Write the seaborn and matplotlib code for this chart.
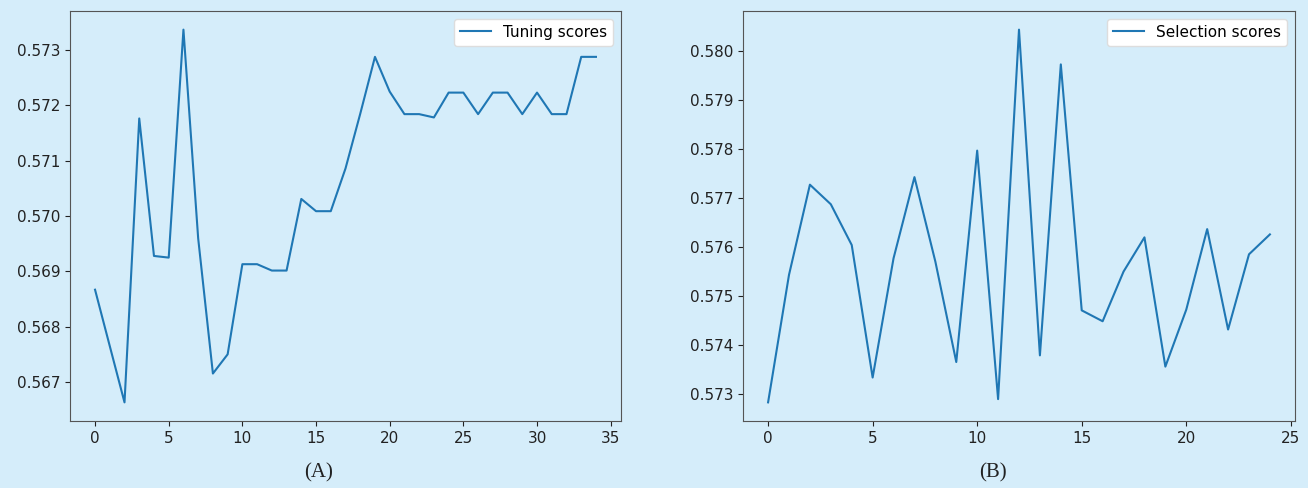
import matplotlib
matplotlib.use("Agg")
import matplotlib.pyplot as plt
import seaborn as sns
import pandas as pd

# Scores recorded at each iteration
tuning_scores = [
    0.568666, 0.567647, 0.566630, 0.571761, 0.569276, 0.569246, 0.573366,
    0.569594, 0.567151, 0.567498, 0.569127, 0.569127, 0.569012, 0.569012,
    0.570306, 0.570085, 0.570085, 0.570857, 0.571845, 0.572874, 0.572246,
    0.571839, 0.571839, 0.571779, 0.572228, 0.572228, 0.571839, 0.572228,
    0.572228, 0.571839, 0.572228, 0.571839, 0.571839, 0.572874, 0.572874,
]
selection_scores = [
    0.572833, 0.575430, 0.577267, 0.576868, 0.576038, 0.573339, 0.575768,
    0.577421, 0.575700, 0.573655, 0.577961, 0.572899, 0.580425, 0.573790,
    0.579717, 0.574707, 0.574485, 0.575497, 0.576194, 0.573561, 0.574722,
    0.576362, 0.574317, 0.575849, 0.576254,
]
series_labels = ["Tuning scores", "Selection scores"]
panel_titles = ["(A)", "(B)"]

bg = "#d5edfa"
line_color = "#1f77b4"

fig = plt.figure(figsize=(13.08, 4.88), dpi=100, facecolor=bg)
W, H = 1308, 488
ax_a = fig.add_axes([70 / W, 1 - 421 / H, (621 - 70) / W, (421 - 11) / H])
ax_b = fig.add_axes([743 / W, 1 - 421 / H, (1295 - 743) / W, (421 - 11) / H])

for ax, scores, label in [(ax_a, tuning_scores, series_labels[0]),
                          (ax_b, selection_scores, series_labels[1])]:
    df = pd.DataFrame({"iteration": range(len(scores)), "score": scores})
    sns.lineplot(data=df, x="iteration", y="score", ax=ax, color=line_color,
                 linewidth=1.5, label=label)
    ax.set_facecolor(bg)
    ax.set_xlabel("")
    ax.set_ylabel("")
    for s in ax.spines.values():
        s.set_color("#555555")
    ax.tick_params(colors="#222222", labelsize=11)
    leg = ax.legend(loc="upper right", facecolor="white", framealpha=1,
                    edgecolor="#dddddd", fontsize=11)

ax_a.set_yticks([0.567, 0.568, 0.569, 0.570, 0.571, 0.572, 0.573])
ax_a.set_xticks(range(0, 36, 5))
ax_b.set_xticks(range(0, 26, 5))

fig.text(319 / W, 1 - 473 / H, panel_titles[0], ha="center", va="center",
         fontsize=15, family="Liberation Serif", color="#222222")
fig.text(993 / W, 1 - 473 / H, panel_titles[1], ha="center", va="center",
         fontsize=15, family="Liberation Serif", color="#222222")

fig.savefig("out.png", dpi=100, facecolor=bg)
